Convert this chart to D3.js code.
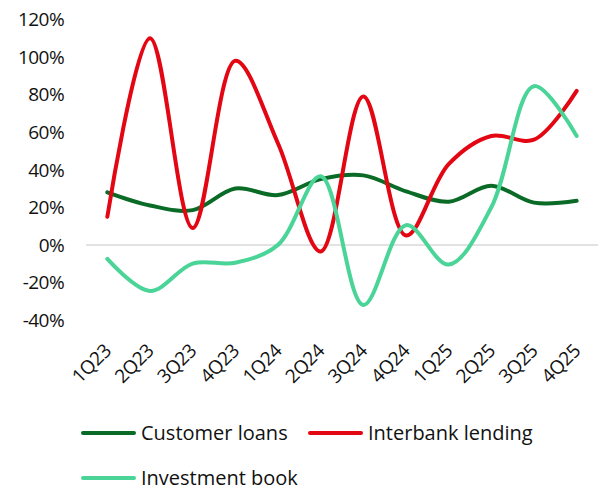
<!DOCTYPE html>
<html>
<head>
<meta charset="utf-8">
<script src="https://cdn.jsdelivr.net/npm/d3@7"></script>
<style>
  html, body { margin: 0; padding: 0; background: #fff; }
  svg { display: block; font-family: "Open Sans", Lato, "Noto Sans", sans-serif; }
</style>
</head>
<body>
<svg id="chart" width="605" height="490"></svg>
<script>
// Quarterly growth rates (%), year on year
const quarters = ["1Q23","2Q23","3Q23","4Q23","1Q24","2Q24","3Q24","4Q24","1Q25","2Q25","3Q25","4Q25"];
const customerLoans   = [28, 21, 18.5, 30, 26.5, 35, 37, 28.5, 23, 31.5, 22.5, 23.5];
const interbankLending = [15, 110, 9, 98, 54, -3.5, 79, 5, 43, 58, 56, 82];
const investmentBook  = [-7.5, -24.5, -10, -9.5, 0, 36.5, -32, 10.5, -10.5, 20, 84.5, 58];
const yTicks = [-40, -20, 0, 20, 40, 60, 80, 100, 120];

const series = [
  { name: "Customer loans",   values: customerLoans,    color: "#0a6b27" },
  { name: "Interbank lending", values: interbankLending, color: "#e30613" },
  { name: "Investment book",  values: investmentBook,   color: "#4bd497" }
];

const svg = d3.select("#chart");

const x = d3.scalePoint().domain(quarters).range([86, 598]).padding(0.5);
const y = d3.scaleLinear().domain([-40, 120]).range([320, 19.5]);

// y tick labels
svg.append("g").selectAll("text")
  .data(yTicks).join("text")
  .attr("x", 64)
  .attr("y", d => y(d))
  .attr("dy", "0.36em")
  .attr("text-anchor", "end")
  .attr("font-size", 19)
  .attr("letter-spacing", -0.6)
  .attr("fill", "#111")
  .text(d => d + "%");

// zero baseline
svg.append("line")
  .attr("x1", 86).attr("x2", 598)
  .attr("y1", y(0)).attr("y2", y(0))
  .attr("stroke", "#d9d9d9")
  .attr("stroke-width", 1.5);

// x tick labels, rotated
svg.append("g").selectAll("text")
  .data(quarters).join("text")
  .attr("transform", d => `translate(${x(d) + 5},352) rotate(-45)`)
  .attr("text-anchor", "end")
  .attr("font-size", 19)
  .attr("letter-spacing", -0.4)
  .attr("fill", "#111")
  .text(d => d);

// lines
const line = d3.line()
  .x((d, i) => x(quarters[i]))
  .y(d => y(d))
  .curve(d3.curveCatmullRom.alpha(0.5));

svg.append("g").selectAll("path")
  .data(series).join("path")
  .attr("d", s => line(s.values))
  .attr("fill", "none")
  .attr("stroke", s => s.color)
  .attr("stroke-width", 4)
  .attr("stroke-linecap", "round")
  .attr("stroke-linejoin", "round");

// legend
const legendPos = [[83, 433], [310, 433], [83, 478]];
const legend = svg.append("g").selectAll("g")
  .data(series).join("g")
  .attr("transform", (d, i) => `translate(${legendPos[i][0]},${legendPos[i][1]})`);
legend.append("line")
  .attr("x1", 0).attr("x2", 51)
  .attr("stroke", d => d.color)
  .attr("stroke-width", 4)
  .attr("stroke-linecap", "round");
legend.append("text")
  .attr("x", 58)
  .attr("dy", "0.36em")
  .attr("font-size", 20)
  .attr("fill", "#111")
  .text(d => d.name);
</script>
</body>
</html>
